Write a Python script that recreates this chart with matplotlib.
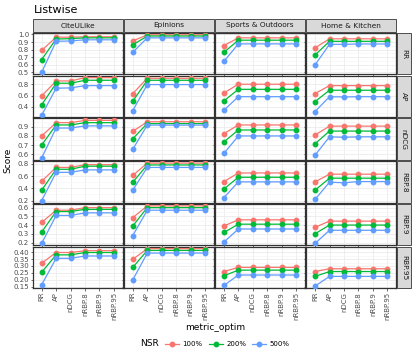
import matplotlib

matplotlib.use("Agg")
import matplotlib.pyplot as plt
from matplotlib.lines import Line2D
from matplotlib.patches import Rectangle
from matplotlib.ticker import FixedLocator, MultipleLocator

datasets = ["CiteULike", "Epinions", "Sports & Outdoors", "Home & Kitchen"]
measures = ["RR", "AP", "nDCG", "RBP.8", "RBP.9", "RBP.95"]
metric_optim = ["RR", "AP", "nDCG", "nRBP.8", "nRBP.9", "nRBP.95"]
nsr = ["100%", "200%", "500%"]

# per measure: dataset -> [100%, 200%, 500%] series over metric_optim
rr = {
    "CiteULike": [[0.79, 0.965, 0.965, 0.97, 0.97, 0.97],
                  [0.67, 0.94, 0.945, 0.956, 0.956, 0.956],
                  [0.50, 0.91, 0.915, 0.93, 0.93, 0.93]],
    "Epinions": [[0.916, 0.995, 0.995, 0.995, 0.995, 0.995],
                 [0.863, 0.98, 0.98, 0.98, 0.98, 0.98],
                 [0.765, 0.956, 0.956, 0.956, 0.956, 0.956]],
    "Sports & Outdoors": [[0.854, 0.956, 0.956, 0.956, 0.956, 0.956],
                          [0.765, 0.925, 0.925, 0.925, 0.925, 0.925],
                          [0.646, 0.876, 0.876, 0.876, 0.876, 0.876]],
    "Home & Kitchen": [[0.824, 0.943, 0.943, 0.943, 0.943, 0.943],
                       [0.73, 0.91, 0.91, 0.91, 0.91, 0.91],
                       [0.60, 0.87, 0.87, 0.875, 0.875, 0.875]],
}
ap = {
    "CiteULike": [[0.594, 0.858, 0.858, 0.917, 0.917, 0.917],
                  [0.435, 0.818, 0.818, 0.87, 0.87, 0.87],
                  [0.254, 0.73, 0.735, 0.776, 0.776, 0.776]],
    "Epinions": [[0.635, 0.905, 0.905, 0.905, 0.905, 0.905],
                 [0.50, 0.87, 0.87, 0.87, 0.87, 0.87],
                 [0.335, 0.794, 0.794, 0.794, 0.794, 0.794]],
    "Sports & Outdoors": [[0.647, 0.80, 0.80, 0.80, 0.80, 0.80],
                          [0.506, 0.71, 0.71, 0.71, 0.71, 0.71],
                          [0.342, 0.58, 0.58, 0.58, 0.58, 0.58]],
    "Home & Kitchen": [[0.635, 0.776, 0.776, 0.776, 0.776, 0.776],
                       [0.494, 0.694, 0.694, 0.694, 0.694, 0.694],
                       [0.318, 0.58, 0.575, 0.58, 0.58, 0.58]],
}
ndcg = {
    "CiteULike": [[0.80, 0.945, 0.945, 0.97, 0.97, 0.97],
                  [0.70, 0.92, 0.92, 0.945, 0.945, 0.945],
                  [0.56, 0.886, 0.886, 0.91, 0.91, 0.91]],
    "Epinions": [[0.85, 0.955, 0.955, 0.955, 0.955, 0.955],
                 [0.77, 0.935, 0.935, 0.935, 0.935, 0.935],
                 [0.655, 0.918, 0.918, 0.918, 0.918, 0.918]],
    "Sports & Outdoors": [[0.825, 0.92, 0.92, 0.92, 0.92, 0.92],
                          [0.735, 0.865, 0.865, 0.865, 0.865, 0.865],
                          [0.61, 0.80, 0.80, 0.80, 0.80, 0.80]],
    "Home & Kitchen": [[0.81, 0.907, 0.907, 0.907, 0.907, 0.907],
                       [0.715, 0.853, 0.853, 0.853, 0.853, 0.853],
                       [0.59, 0.79, 0.785, 0.79, 0.79, 0.79]],
}
rbp8 = {
    "CiteULike": [[0.515, 0.74, 0.74, 0.785, 0.785, 0.785],
                  [0.37, 0.71, 0.71, 0.76, 0.76, 0.76],
                  [0.20, 0.66, 0.66, 0.70, 0.70, 0.70]],
    "Epinions": [[0.61, 0.81, 0.81, 0.81, 0.81, 0.81],
                 [0.50, 0.78, 0.78, 0.78, 0.78, 0.78],
                 [0.37, 0.74, 0.74, 0.74, 0.74, 0.74]],
    "Sports & Outdoors": [[0.51, 0.65, 0.65, 0.65, 0.65, 0.65],
                          [0.39, 0.58, 0.58, 0.58, 0.58, 0.58],
                          [0.25, 0.505, 0.505, 0.505, 0.505, 0.505]],
    "Home & Kitchen": [[0.505, 0.63, 0.63, 0.63, 0.63, 0.63],
                       [0.37, 0.565, 0.565, 0.565, 0.565, 0.565],
                       [0.22, 0.50, 0.49, 0.51, 0.51, 0.51]],
}
rbp9 = {
    "CiteULike": [[0.43, 0.57, 0.57, 0.60, 0.60, 0.60],
                  [0.32, 0.555, 0.555, 0.58, 0.58, 0.58],
                  [0.19, 0.51, 0.51, 0.54, 0.54, 0.54]],
    "Epinions": [[0.485, 0.62, 0.62, 0.62, 0.62, 0.62],
                 [0.39, 0.60, 0.60, 0.60, 0.60, 0.60],
                 [0.28, 0.57, 0.57, 0.57, 0.57, 0.57]],
    "Sports & Outdoors": [[0.39, 0.46, 0.46, 0.46, 0.46, 0.46],
                          [0.315, 0.41, 0.41, 0.41, 0.41, 0.41],
                          [0.205, 0.355, 0.355, 0.355, 0.355, 0.355]],
    "Home & Kitchen": [[0.375, 0.445, 0.445, 0.445, 0.445, 0.445],
                       [0.30, 0.40, 0.40, 0.40, 0.40, 0.40],
                       [0.19, 0.34, 0.34, 0.34, 0.34, 0.34]],
}
rbp95 = {
    "CiteULike": [[0.32, 0.397, 0.397, 0.41, 0.41, 0.41],
                  [0.255, 0.38, 0.38, 0.397, 0.397, 0.397],
                  [0.165, 0.355, 0.355, 0.372, 0.372, 0.372]],
    "Epinions": [[0.348, 0.425, 0.425, 0.425, 0.425, 0.425],
                 [0.29, 0.412, 0.412, 0.412, 0.412, 0.412],
                 [0.20, 0.393, 0.393, 0.393, 0.393, 0.393]],
    "Sports & Outdoors": [[0.26, 0.29, 0.29, 0.29, 0.29, 0.29],
                          [0.23, 0.27, 0.27, 0.27, 0.27, 0.27],
                          [0.16, 0.235, 0.235, 0.235, 0.235, 0.235]],
    "Home & Kitchen": [[0.26, 0.28, 0.28, 0.28, 0.28, 0.28],
                       [0.225, 0.26, 0.26, 0.26, 0.26, 0.26],
                       [0.155, 0.225, 0.225, 0.225, 0.225, 0.225]],
}
rows = [rr, ap, ndcg, rbp8, rbp9, rbp95]
row_ticks = [
    [0.5, 0.6, 0.7, 0.8, 0.9, 1.0],
    [0.4, 0.6, 0.8],
    [0.6, 0.7, 0.8, 0.9],
    [0.2, 0.4, 0.6, 0.8],
    [0.2, 0.3, 0.4, 0.5, 0.6],
    [0.15, 0.20, 0.25, 0.30, 0.35, 0.40],
]
row_fmt = ["{:.1f}"] * 5 + ["{:.2f}"]

colors = ["#F8766D", "#00BA38", "#619CFF"]
W, H = 415, 356
fig = plt.figure(figsize=(W / 100, H / 100), dpi=100)
gs = fig.add_gridspec(6, 4, left=33 / W, right=396 / W, top=1 - 33 / H,
                      bottom=1 - 288 / H, wspace=0.017, hspace=0.036)

x = list(range(len(metric_optim)))
for r, data in enumerate(rows):
    for c, ds in enumerate(datasets):
        ax = fig.add_subplot(gs[r, c])
        for k, ys in enumerate(data[ds]):
            ax.plot(x, ys, color=colors[k], lw=0.9, marker="o", ms=3.2,
                    mec=colors[k], zorder=3)
        # y range shared across the row, ggplot-like expansion
        vals = [v for d in data.values() for s in d for v in s]
        lo, hi = min(vals), max(vals)
        pad = (hi - lo) * 0.05
        ax.set_ylim(lo - pad, hi + pad)
        ax.set_xlim(-0.6, 5.6)
        ticks = row_ticks[r]
        ax.yaxis.set_major_locator(FixedLocator(ticks))
        step = ticks[1] - ticks[0]
        ax.yaxis.set_minor_locator(MultipleLocator(step / 2))
        ax.set_xticks(x)
        ax.grid(True, which="major", color="#EBEBEB", lw=0.6)
        ax.grid(True, which="minor", axis="y", color="#F4F4F4", lw=0.4)
        ax.set_axisbelow(True)
        for s in ax.spines.values():
            s.set_color("#333333")
            s.set_linewidth(0.9)
        ax.tick_params(length=1.8, width=0.5, color="#333333", pad=1,
                       labelsize=5, labelcolor="#4D4D4D", which="major")
        ax.tick_params(which="minor", length=0)
        if c == 0:
            ax.set_yticklabels([row_fmt[r].format(t) for t in ticks])
        else:
            ax.set_yticklabels([])
        if r == len(rows) - 1:
            ax.set_xticklabels(metric_optim, rotation=90)
        else:
            ax.set_xticklabels([])
        pos = ax.get_position()
        if r == 0:
            fig.add_artist(Rectangle((pos.x0, pos.y1 + 1 / H), pos.width, 13 / H,
                                     transform=fig.transFigure, fc="#D9D9D9",
                                     ec="#333333", lw=0.6))
            fig.text(pos.x0 + pos.width / 2, pos.y1 + 7.5 / H, ds, ha="center",
                     va="center", fontsize=5.3, color="#1A1A1A")
        if c == len(datasets) - 1:
            fig.add_artist(Rectangle((pos.x1 + 1 / W, pos.y0), 13.5 / W, pos.height,
                                     transform=fig.transFigure, fc="#D9D9D9",
                                     ec="#333333", lw=0.6))
            fig.text(pos.x1 + 7.8 / W, pos.y0 + pos.height / 2, measures[r],
                     ha="center", va="center", rotation=-90, fontsize=5.3,
                     color="#1A1A1A")

fig.text(34 / W, 1 - 10 / H, "Listwise", fontsize=8, ha="left", va="center")
fig.text(8 / W, 1 - 160 / H, "Score", fontsize=6.5, rotation=90, ha="center",
         va="center")
fig.text(215 / W, 1 - 327 / H, "metric_optim", fontsize=6.5, ha="center",
         va="center")
fig.text(140 / W, 1 - 344 / H, "NSR", fontsize=6.5, ha="left", va="center")
handles = [Line2D([], [], color=col, lw=0.9, marker="o", ms=3.2) for col in colors]
fig.legend(handles, nsr, loc="center left", bbox_to_anchor=(165 / W, 1 - 344 / H),
           ncol=3, frameon=False, fontsize=5, handlelength=2.0, handletextpad=0.5,
           columnspacing=0.9, borderaxespad=0, borderpad=0)

fig.savefig("out.png", dpi=100)
